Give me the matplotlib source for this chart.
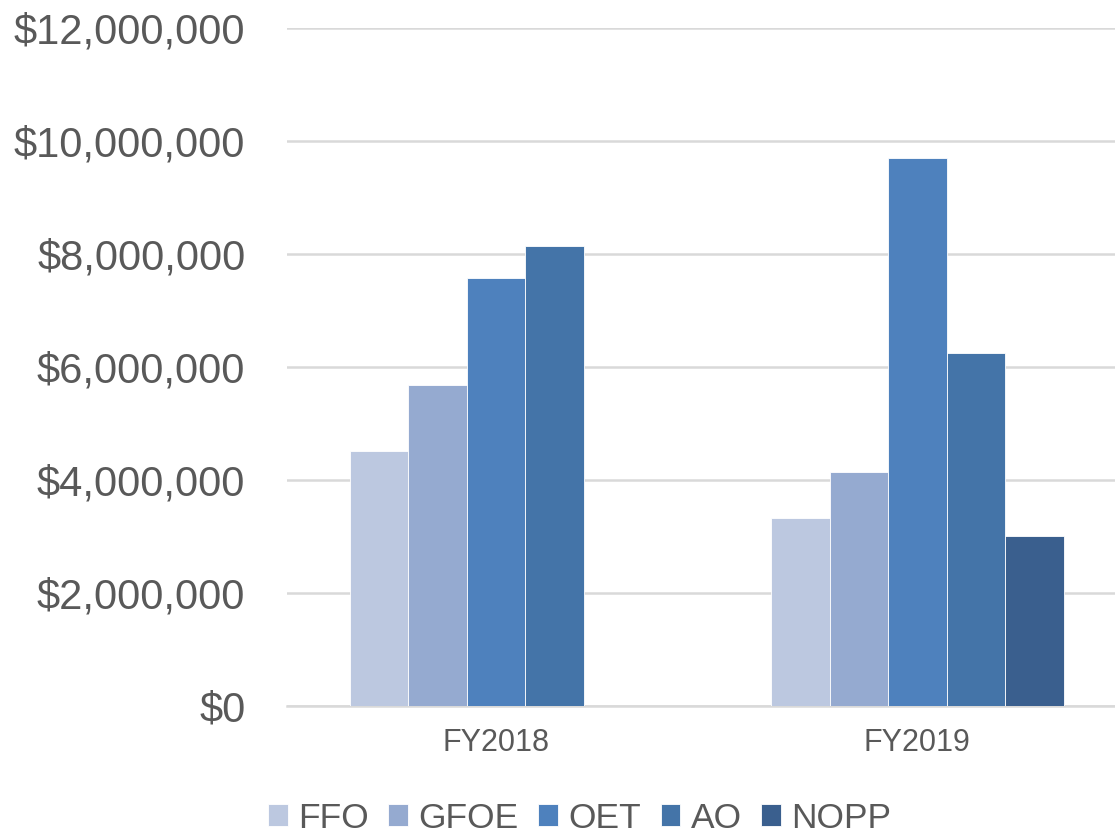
import matplotlib.pyplot as plt
import numpy as np
from matplotlib.ticker import FuncFormatter

plt.rcParams['font.family'] = ['Liberation Sans', 'DejaVu Sans']

# Funding by program, per fiscal year
years = ['FY2018', 'FY2019']
programs = ['FFO', 'GFOE', 'OET', 'AO', 'NOPP']
ffo = [4510000, 3330000]
gfoe = [5680000, 4140000]
oet = [7580000, 9700000]
ao = [8140000, 6250000]
nopp = [0, 3010000]
colors = ['#BCC8E0', '#95AAD0', '#4E81BD', '#4474A8', '#3A5F8E']

series = [ffo, gfoe, oet, ao, nopp]

fig = plt.figure(figsize=(11.15, 8.34), dpi=100)
ax = fig.add_axes([0.2574, 0.1535, 0.7426, 0.8129])

x = np.arange(len(years))
width = 0.1388
for i, (name, vals, c) in enumerate(zip(programs, series, colors)):
    ax.bar(x + (i - 2) * width, vals, width, color=c, label=name,
           edgecolor='white', linewidth=0.6, zorder=3)

ax.set_ylim(0, 12000000)
ax.set_yticks(range(0, 12000001, 2000000))
ax.yaxis.set_major_formatter(FuncFormatter(lambda v, p: f'${v:,.0f}'))
ax.set_xlim(-0.496, 1.469)
ax.set_xticks(x)
ax.set_xticklabels(years)

ax.grid(axis='y', color='#D9D9D9', linewidth=1.8, zorder=0)
for s in ['top', 'right', 'left']:
    ax.spines[s].set_visible(False)
ax.spines['bottom'].set_color('#D9D9D9')
ax.spines['bottom'].set_linewidth(1.8)
ax.tick_params(axis='y', length=0, pad=30, labelsize=30, labelcolor='#595959')
ax.tick_params(axis='x', length=0, pad=16, labelsize=22, labelcolor='#595959')

fig.legend(loc='center', bbox_to_anchor=(0.52, 1 - 818 / 834), ncol=5,
           frameon=False, fontsize=25.5, labelcolor='#595959',
           handlelength=0.55, handleheight=0.55, handletextpad=0.3,
           columnspacing=0.55)

plt.savefig('out.png', dpi=100)
